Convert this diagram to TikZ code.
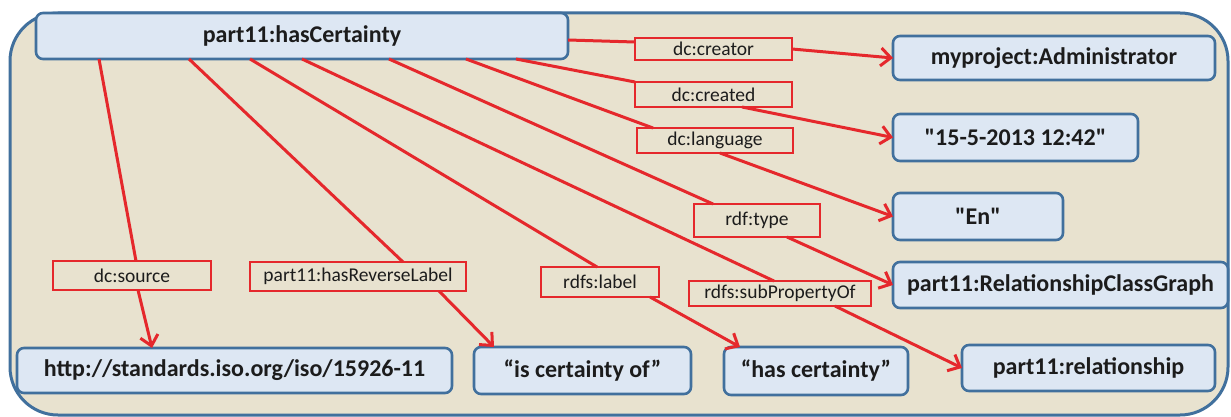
\documentclass[tikz,border=0pt]{standalone}
\usepackage{fontspec}
\setmainfont{Carlito}[Ligatures=TeXOff]
\usetikzlibrary{arrows.meta}
\definecolor{bgbeige}{HTML}{E8E2CF}
\definecolor{nodefill}{HTML}{DDE7F3}
\definecolor{nodeblue}{HTML}{41709D}
\definecolor{linered}{HTML}{E5282C}
\definecolor{txt}{HTML}{1C1C1C}
\begin{document}
\begin{tikzpicture}[x=1pt,y=-1pt,
  frame/.style={draw=nodeblue, fill=bgbeige, line width=3, rounded corners=48},
  box/.style={draw=nodeblue, fill=nodefill, line width=2.6, rounded corners=7,
    font=\bfseries\fontsize{24}{28}\selectfont, text=txt, inner sep=0pt, outer sep=0pt},
  lbl/.style={draw=linered, fill=bgbeige, line width=2,
    font=\fontsize{19.5}{22}\selectfont, text=txt, inner sep=0pt, outer sep=0pt},
  conn/.style={draw=linered, line width=3},
  arr/.style={conn, -{Straight Barb[length=10pt, width=18pt]}}]
\useasboundingbox (0,0) rectangle (1231,417);
\fill[white] (0,0) rectangle (1231,417);
\path[frame] (10,13) rectangle (1228,415);

% label nodes
\node[lbl, minimum width=157, minimum height=22] (creator) at (713.5,49) {dc:creator};
\node[lbl, minimum width=157, minimum height=25] (created) at (713.5,94.5) {dc:created};
\node[lbl, minimum width=156, minimum height=25] (language) at (715,140.5) {dc:language};
\node[lbl, minimum width=126, minimum height=33] (rdftype) at (757,220.5) {rdf:type};
\node[lbl, minimum width=182, minimum height=25] (subprop) at (780,293.5) {rdfs:subPropertyOf};
\node[lbl, minimum width=118, minimum height=30] (rdfslabel) at (600,282) {rdfs:label};
\node[lbl, minimum width=216, minimum height=29] (revlabel) at (358,276.5) {part11:hasReverseLabel};
\node[lbl, minimum width=158, minimum height=29] (source) at (132,275.5) {dc:source};

% resource nodes
\node[box, minimum width=532, minimum height=46] (main) at (302,36) {part11:hasCertainty};
\node[box, minimum width=322, minimum height=44] (admin) at (1054,58) {myproject:Administrator};
\node[box, minimum width=245, minimum height=47] (date) at (1015.5,137.5) {"15-5-2013 12:42"};
\node[box, minimum width=170, minimum height=47] (en) at (978,216.5) {"En"};
\node[box, minimum width=335, minimum height=46] (rcg) at (1060.5,285) {part11:RelationshipClassGraph};
\node[box, minimum width=253, minimum height=46] (rel) at (1088.5,368) {part11:relationship};
\node[box, minimum width=184, minimum height=48] (hascert) at (816,371) {“has certainty”};
\node[box, minimum width=217, minimum height=47] (iscert) at (582.5,370.5) {“is certainty of”};
\node[box, minimum width=435, minimum height=45] (http) at (234.5,370.5) {http://standards.iso.org/iso/15926-11};

% connectors
\path[conn] ([yshift=-4]main.east) -- ([yshift=7]creator.west);
\path[arr] (creator.east) -- (admin.west);
\path[conn] ([xshift=480]main.south west) -- (created.north west);
\path[arr] ([xshift=107]created.south west) -- (date.west);
\path[conn] ([xshift=430]main.south west) -- ([xshift=16]language.north west);
\path[arr] ([xshift=83]language.south west) -- (en.west);
\path[conn] ([xshift=353]main.south west) -- ([xshift=19]rdftype.north west);
\path[arr] ([xshift=93]rdftype.south west) -- (rcg.west);
\path[conn] ([xshift=266]main.south west) -- ([xshift=85]subprop.north west);
\path[arr] ([xshift=146]subprop.south west) -- (rel.west);
\path[conn] ([xshift=214]main.south west) -- ([xshift=56]rdfslabel.north west);
\path[arr] ([xshift=109]rdfslabel.south west) -- ([xshift=16]hascert.north west);
\path[conn] ([xshift=153]main.south west) -- ([xshift=153]revlabel.north west);
\path[arr] ([xshift=189]revlabel.south west) -- ([xshift=20]iscert.north west);
\path[conn] ([xshift=63]main.south west) -- ([xshift=83]source.north west);
\path[arr] ([xshift=85]source.south west) -- ([xshift=135]http.north west);
\end{tikzpicture}
\end{document}
